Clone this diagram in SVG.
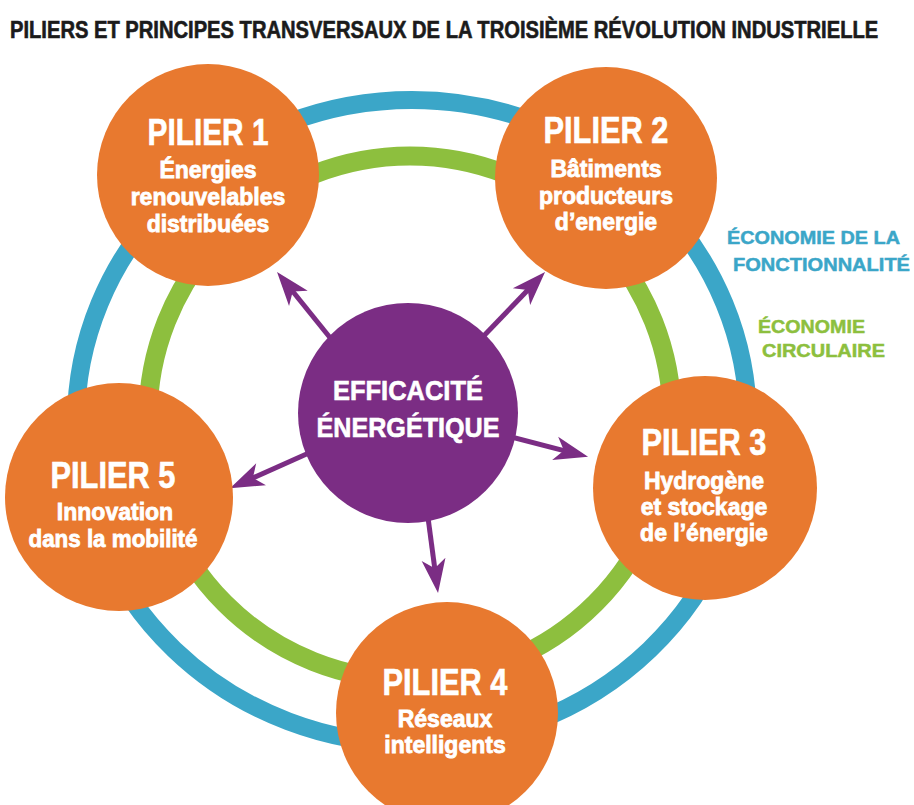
<svg xmlns="http://www.w3.org/2000/svg" width="914" height="805" viewBox="0 0 914 805">
  <style>
    .title { font-family: "Liberation Sans", Arial, sans-serif; font-weight: bold; font-size: 23px; fill: #1b1b1b; stroke: #1b1b1b; stroke-width: 0.6; }
    .pillar { fill: #e8792f; }
    .hub { fill: #7b2d84; }
    .ring-blue { fill: none; stroke: #3ba6c8; stroke-width: 18; }
    .ring-green { fill: none; stroke: #8dbf3e; stroke-width: 19; }
    .head { font-family: "Liberation Sans", Arial, sans-serif; font-weight: bold; font-size: 36px; fill: #ffffff; text-anchor: middle; stroke: #ffffff; stroke-width: 0.6; }
    .sub { font-family: "Liberation Sans", Arial, sans-serif; font-weight: bold; font-size: 23px; fill: #ffffff; text-anchor: middle; stroke: #ffffff; stroke-width: 0.8; }
    .hubtxt { font-family: "Liberation Sans", Arial, sans-serif; font-weight: bold; font-size: 28px; fill: #ffffff; text-anchor: middle; stroke: #ffffff; stroke-width: 0.6; }
    .lbl { font-family: "Liberation Sans", Arial, sans-serif; font-weight: bold; font-size: 19px; stroke-width: 0.5; }
    .lbl-blue { fill: #3ba6c8; stroke: #3ba6c8; }
    .lbl-green { fill: #8dbf3e; stroke: #8dbf3e; }
    .arrow { stroke: #7b2d84; stroke-width: 5; fill: none; marker-end: url(#arrowhead); }
  </style>
  <defs>
    <marker id="arrowhead" markerUnits="userSpaceOnUse" markerWidth="60" markerHeight="30" refX="36" refY="14" orient="auto" overflow="visible">
      <path d="M56,14 L22,2 L31,14 L22,26 Z" fill="#7b2d84"/>
    </marker>
  </defs>

  <rect width="914" height="805" fill="#ffffff"/>

  <!-- heading, set in a horizontally condensed bold face -->
  <g transform="translate(10,38) scale(0.79,1)">
    <text class="title" x="0" y="0" textLength="1099" lengthAdjust="spacingAndGlyphs">PILIERS ET PRINCIPES TRANSVERSAUX DE LA TROISIÈME RÉVOLUTION INDUSTRIELLE</text>
  </g>

  <!-- transversal principles: two rings behind the pillars -->
  <g id="rings">
    <ellipse class="ring-blue" cx="412" cy="422" rx="336" ry="322"/>
    <circle class="ring-green" cx="410" cy="418" r="262"/>
  </g>

  <g id="labels">
    <text class="lbl lbl-blue" x="727" y="244" textLength="173" lengthAdjust="spacingAndGlyphs">ÉCONOMIE DE LA</text>
    <text class="lbl lbl-blue" x="733" y="271" textLength="177" lengthAdjust="spacingAndGlyphs">FONCTIONNALITÉ</text>
    <text class="lbl lbl-green" x="758" y="333" textLength="107" lengthAdjust="spacingAndGlyphs">ÉCONOMIE</text>
    <text class="lbl lbl-green" x="762" y="357" textLength="123" lengthAdjust="spacingAndGlyphs">CIRCULAIRE</text>
  </g>

  <!-- arrows from the hub to each pillar -->
  <g id="connectors">
    <line class="arrow" x1="340" y1="350" x2="289.6" y2="287.5"/>
    <line class="arrow" x1="475" y1="345" x2="531.2" y2="286.5"/>
    <line class="arrow" x1="500" y1="434" x2="568.7" y2="451.8"/>
    <line class="arrow" x1="427" y1="510" x2="435.4" y2="573.2"/>
    <line class="arrow" x1="320" y1="448" x2="248.3" y2="480"/>
  </g>

  <g id="pilier1">
    <circle class="pillar" cx="208" cy="175" r="111"/>
    <text class="head" x="208" y="145" textLength="121" lengthAdjust="spacingAndGlyphs">PILIER 1</text>
    <text class="sub" x="208" y="178">Énergies</text>
    <text class="sub" x="208" y="205">renouvelables</text>
    <text class="sub" x="208" y="232">distribuées</text>
  </g>

  <g id="pilier2">
    <circle class="pillar" cx="606" cy="178" r="111"/>
    <text class="head" x="606" y="143" textLength="125" lengthAdjust="spacingAndGlyphs">PILIER 2</text>
    <text class="sub" x="606" y="177">Bâtiments</text>
    <text class="sub" x="606" y="204">producteurs</text>
    <text class="sub" x="606" y="230">d’energie</text>
  </g>

  <g id="pilier3">
    <circle class="pillar" cx="705" cy="488" r="112"/>
    <text class="head" x="704" y="455" textLength="125" lengthAdjust="spacingAndGlyphs">PILIER 3</text>
    <text class="sub" x="704" y="489">Hydrogène</text>
    <text class="sub" x="704" y="515">et stockage</text>
    <text class="sub" x="704" y="541">de l’énergie</text>
  </g>

  <g id="pilier4">
    <circle class="pillar" cx="447" cy="713" r="111"/>
    <text class="head" x="445" y="695" textLength="125" lengthAdjust="spacingAndGlyphs">PILIER 4</text>
    <text class="sub" x="445" y="727">Réseaux</text>
    <text class="sub" x="445" y="753">intelligents</text>
  </g>

  <g id="pilier5">
    <circle class="pillar" cx="119" cy="497" r="114"/>
    <text class="head" x="113" y="488" textLength="125" lengthAdjust="spacingAndGlyphs">PILIER 5</text>
    <text class="sub" x="115" y="520">Innovation</text>
    <text class="sub" x="113" y="547" textLength="169" lengthAdjust="spacingAndGlyphs">dans la mobilité</text>
  </g>

  <g id="efficacite">
    <circle class="hub" cx="408" cy="413" r="110"/>
    <text class="hubtxt" x="408" y="400" textLength="150" lengthAdjust="spacingAndGlyphs">EFFICACITÉ</text>
    <text class="hubtxt" x="408" y="437" textLength="183" lengthAdjust="spacingAndGlyphs">ÉNERGÉTIQUE</text>
  </g>
</svg>
